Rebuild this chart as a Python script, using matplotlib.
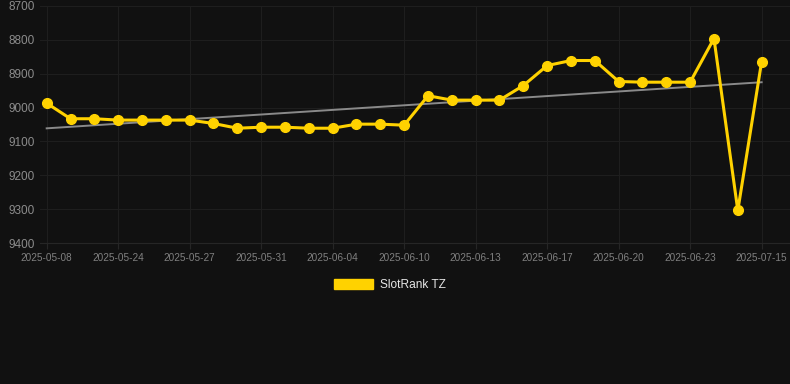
import numpy as np
import matplotlib
matplotlib.use("Agg")
import matplotlib.pyplot as plt
from matplotlib.patches import Patch

plt.rcParams['font.family'] = ['Liberation Sans', 'DejaVu Sans']

series_name = "SlotRank TZ"
values = [8987, 9033, 9033, 9037, 9037, 9037, 9037, 9047, 9061, 9058, 9058,
          9061, 9061, 9049, 9049, 9052, 8965, 8978, 8978, 8978, 8935, 8876,
          8861, 8861, 8923, 8925, 8925, 8925, 8796, 9304, 8864]
tick_labels = ["2025-05-08", "2025-05-24", "2025-05-27", "2025-05-31",
               "2025-06-04", "2025-06-10", "2025-06-13", "2025-06-17",
               "2025-06-20", "2025-06-23", "2025-07-15"]
y_ticks = [8700, 8800, 8900, 9000, 9100, 9200, 9300, 9400]

bg = "#111111"
gold = "#FFD200"

fig = plt.figure(figsize=(7.9, 3.84), dpi=100, facecolor=bg)
ax = fig.add_axes([40 / 790, 1 - 243 / 384, 1 - 40 / 790, 237 / 384])
ax.set_facecolor(bg)

x = np.arange(len(values))
y = np.array(values, dtype=float)

# trend line (linear regression)
k, b = np.polyfit(x, y, 1)
ax.plot(x, k * x + b, color="#8a8a8a", lw=1.4, zorder=2)

ax.plot(x, y, color=gold, lw=2.2, marker="o", markersize=7,
        markerfacecolor=gold, markeredgecolor=gold, zorder=3)

ax.set_ylim(9400, 8700)
ax.set_yticks(y_ticks)
ax.set_yticklabels([str(v) for v in y_ticks])
tick_pos = x[::3]
ax.set_xticks(tick_pos)
ax.set_xticklabels(tick_labels)
ax.set_xlim(-0.28, 31.19)

ax.grid(True, color="#1e1e1e", lw=0.8)
ax.set_axisbelow(True)
for s in ax.spines.values():
    s.set_visible(False)
ax.spines["bottom"].set_visible(True)
ax.spines["bottom"].set_color("#262626")
ax.spines["bottom"].set_linewidth(0.8)
ax.tick_params(axis="y", length=0, pad=4, labelsize=8.5, labelcolor="#8c8c8c")
ax.tick_params(axis="x", length=4, color="#262626", pad=3, labelsize=7.2, labelcolor="#808080")

handle = Patch(facecolor=gold, edgecolor=gold)
leg = fig.legend([handle], [series_name], loc="center", bbox_to_anchor=(390 / 790, 1 - 285 / 384),
                 frameon=False, fontsize=8.6, labelcolor="#e6e6e6",
                 handlelength=3.3, handleheight=1.0, handletextpad=0.6)

fig.savefig("out.png", dpi=100, facecolor=bg)
